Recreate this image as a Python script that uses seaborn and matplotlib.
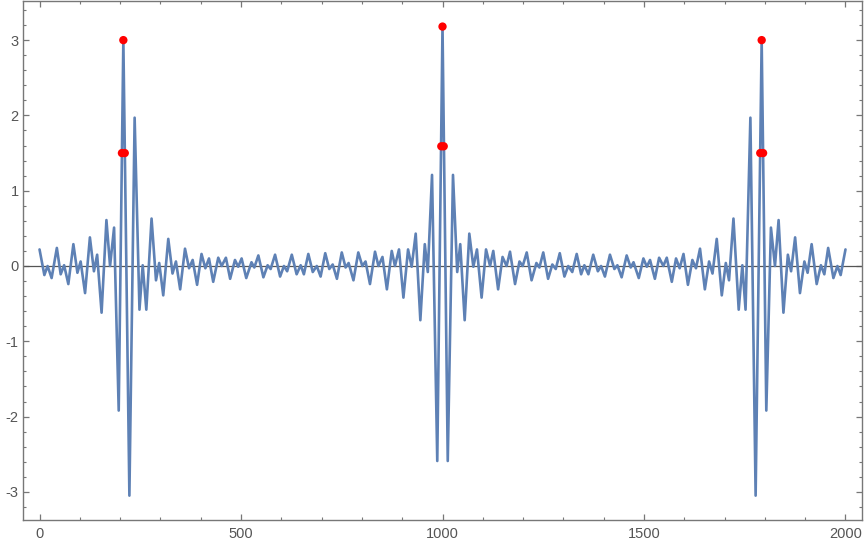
import seaborn as sns
import matplotlib.pyplot as plt
from matplotlib.ticker import MultipleLocator
import pandas as pd

# local extrema of the curve (x, y)
x_vals = [0, 12, 20, 30, 43, 52.5, 61, 71.5, 84, 94, 102, 113, 125, 135, 143, 154,
          166, 175, 185, 196.5, 208, 223, 236, 248, 256, 265, 278, 289, 297, 307,
          319.5, 330, 338.5, 349, 361, 371, 380, 391, 402, 411.5, 420.5, 431, 443.5,
          452, 462.5, 473, 485, 493, 501.5, 513, 526, 533, 543, 555.5, 566, 573.5,
          584.5, 597, 606.5, 614.5, 626, 638, 648, 656, 667, 678, 688, 697.5, 709,
          719, 727.5, 738, 750, 759.5, 767, 779, 791, 801, 809, 820, 832.5, 841, 851,
          862, 874, 882, 892, 903, 914.5, 923.5, 933.5, 945, 956, 963.5, 974, 987,
          1000,
          1013, 1026, 1036.5, 1044, 1055, 1066.5, 1076.5, 1085.5, 1097, 1108, 1118,
          1126, 1138, 1149, 1159, 1167.5, 1180, 1191, 1199, 1209, 1221, 1233, 1240.5,
          1250, 1262, 1272.5, 1281, 1291, 1302.5, 1312, 1322, 1333, 1344, 1352, 1362,
          1374, 1385.5, 1393.5, 1403, 1415.5, 1426.5, 1434, 1444.5, 1457, 1467, 1474,
          1487, 1498.5, 1507, 1515, 1527, 1537.5, 1548, 1556.5, 1569, 1579.5, 1588.5,
          1598, 1609, 1620, 1629, 1639, 1651, 1661.5, 1670, 1680.5, 1693, 1703, 1711,
          1722, 1735, 1744, 1752, 1764, 1777, 1792, 1803.5, 1815, 1825, 1834, 1846,
          1857, 1865, 1875, 1887, 1898, 1906, 1916, 1928.5, 1939, 1947.5, 1957, 1970,
          1980, 1988, 2000]
y_vals = [0.22, -0.12, 0.0, -0.16, 0.24, -0.11, 0.01, -0.24, 0.29, -0.09, 0.06, -0.36,
          0.38, -0.07, 0.15, -0.62, 0.61, 0.0, 0.51, -1.92, 3.0, -3.05, 1.97, -0.58,
          0.01, -0.58, 0.63, -0.19, 0.04, -0.39, 0.36, -0.10, 0.06, -0.31, 0.23, -0.03,
          0.08, -0.25, 0.16, -0.03, 0.10, -0.21, 0.11, 0.0, 0.11, -0.17, 0.08, -0.01,
          0.10, -0.16, 0.05, -0.02, 0.14, -0.15, 0.01, -0.04, 0.15, -0.14, 0.0, -0.07,
          0.15, -0.11, 0.01, -0.11, 0.16, -0.08, 0.0, -0.14, 0.17, -0.04, 0.02, -0.17,
          0.18, -0.02, 0.04, -0.19, 0.18, 0.0, 0.06, -0.24, 0.19, 0.0, 0.12, -0.31,
          0.20, 0.0, 0.22, -0.42, 0.22, -0.01, 0.43, -0.72, 0.29, -0.08, 1.21, -2.59,
          3.18,
          -2.59, 1.21, -0.08, 0.29, -0.72, 0.43, -0.01, 0.22, -0.42, 0.22, 0.0, 0.20,
          -0.31, 0.12, 0.0, 0.19, -0.24, 0.06, 0.0, 0.18, -0.19, 0.04, -0.02, 0.18,
          -0.17, 0.02, -0.04, 0.17, -0.14, 0.0, -0.08, 0.16, -0.11, 0.01, -0.11, 0.15,
          -0.07, 0.0, -0.14, 0.15, -0.04, 0.01, -0.15, 0.14, -0.02, 0.05, -0.16, 0.10,
          -0.01, 0.08, -0.17, 0.11, 0.0, 0.11, -0.21, 0.10, -0.03, 0.16, -0.25, 0.08,
          -0.03, 0.23, -0.31, 0.06, -0.10, 0.36, -0.39, 0.04, -0.19, 0.63, -0.58, 0.01,
          -0.58, 1.97, -3.05, 3.0, -1.92, 0.51, 0.0, 0.61, -0.62, 0.15, -0.07, 0.38,
          -0.36, 0.06, -0.09, 0.29, -0.24, 0.01, -0.11, 0.24, -0.16, 0.0, -0.12, 0.22]

# red markers: peak tops and half-height crossings
pt_x = [204.5, 211.5, 208, 997, 1003, 1000, 1788.5, 1795.5, 1792]
pt_y = [1.5, 1.5, 3.0, 1.59, 1.59, 3.18, 1.5, 1.5, 3.0]

curve = pd.DataFrame({'x': x_vals, 'y': y_vals})
pts = pd.DataFrame({'x': pt_x, 'y': pt_y})

sns.set_style('ticks')
plt.rcParams['font.family'] = ['Liberation Sans', 'DejaVu Sans']
plt.rcParams['axes.unicode_minus'] = False

fig = plt.figure(figsize=(8.64, 5.42), dpi=100)
ax = fig.add_axes([0.0263, 0.0397, 0.9714, 0.9585])

ax.axhline(0, color='#555555', lw=0.9, zorder=1)
sns.lineplot(x='x', y='y', data=curve, sort=False, color='#5E81B5', lw=1.9,
             ax=ax, zorder=2)
sns.scatterplot(x='x', y='y', data=pts, color='red', s=36, edgecolor='none',
                ax=ax, zorder=3)

ax.set_xlim(-41.7, 2041)
ax.set_ylim(-3.38, 3.52)
ax.set_xlabel('')
ax.set_ylabel('')

ax.xaxis.set_major_locator(MultipleLocator(500))
ax.xaxis.set_minor_locator(MultipleLocator(100))
ax.yaxis.set_major_locator(MultipleLocator(1))
ax.yaxis.set_minor_locator(MultipleLocator(0.2))
ax.tick_params(which='both', direction='in', top=True, right=True,
               color='#777777', labelcolor='#555555', labelsize=10.5)
ax.tick_params(which='major', length=4, width=0.9)
ax.tick_params(which='minor', length=2.5, width=0.8)
ax.tick_params(axis='x', pad=5)
ax.tick_params(axis='y', pad=3)
for s in ax.spines.values():
    s.set_color('#777777')
    s.set_linewidth(1.0)

plt.savefig('out.png', dpi=100)
